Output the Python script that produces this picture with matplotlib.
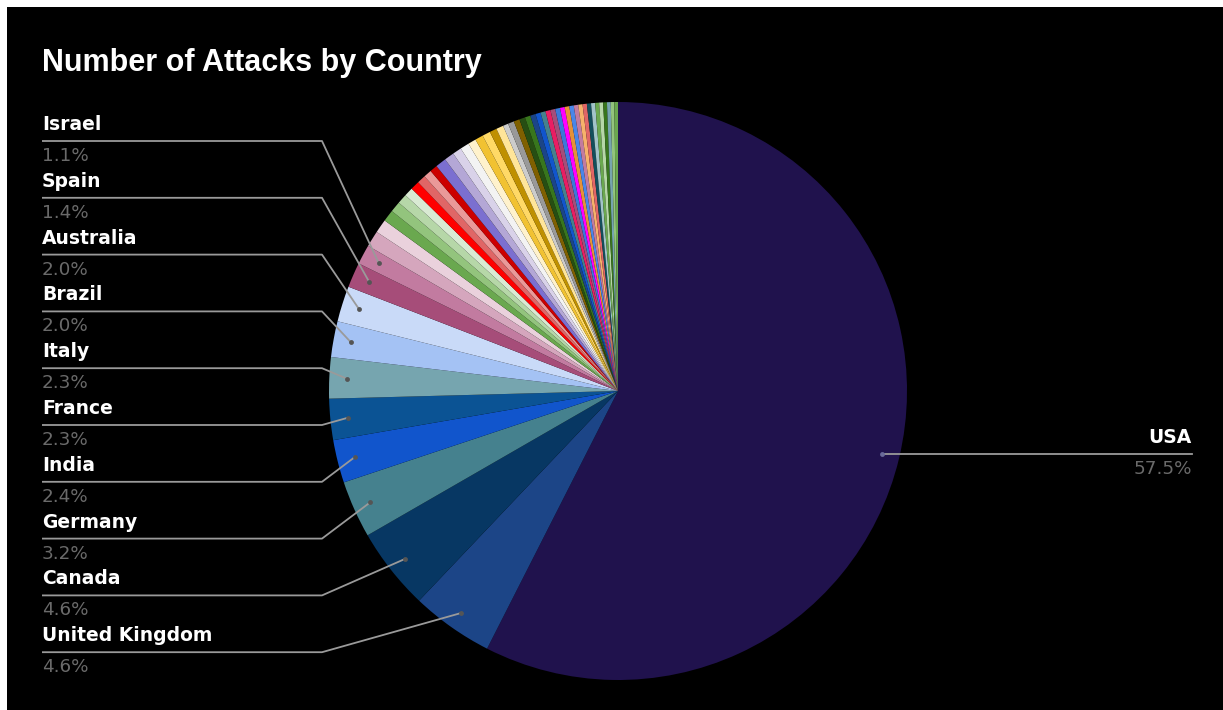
import numpy as np
import matplotlib
matplotlib.use('Agg')
import matplotlib.pyplot as plt
from matplotlib.patches import Rectangle

W, H = 1223, 710

# labelled countries (share of attacks, %)
countries = ['USA', 'United Kingdom', 'Canada', 'Germany', 'India', 'France',
             'Italy', 'Brazil', 'Australia', 'Spain', 'Israel']
shares = [57.5, 4.6, 4.6, 3.2, 2.4, 2.3, 2.3, 2.0, 2.0, 1.4, 1.1]
country_colors = ['#20124d', '#1c4587', '#073763', '#45818e', '#1155cc', '#0b5394',
                  '#76a5af', '#a4c2f4', '#c9daf8', '#a64d79', '#c27ba0']

# remaining unlabelled countries (small slices)
other_shares = [0.9, 0.77,
                0.65, 0.6, 0.55, 0.5,
                0.5, 0.48, 0.45, 0.42,
                0.6, 0.55, 0.5,
                0.5, 0.45,
                0.45, 0.45, 0.4, 0.4,
                0.3, 0.34, 0.33, 0.32, 0.31, 0.3, 0.29, 0.28, 0.28, 0.27,
                0.27, 0.26, 0.26, 0.25, 0.25, 0.24, 0.24, 0.23, 0.23, 0.22,
                0.22, 0.21, 0.21, 0.2, 0.2]
other_colors = ['#d5a6bd', '#ead1dc',
                '#6aa84f', '#93c47d', '#b6d7a8', '#d9ead3',
                '#ff0000', '#e06666', '#ea9999', '#cc0000',
                '#7b6fd0', '#b4a7d6', '#d9d2e9',
                '#f3f3f3', '#fff2cc',
                '#f1c232', '#ffd966', '#bf9000', '#ffe599',
                '#cccccc', '#999999', '#7f6000', '#274e13', '#38761d', '#1c4587',
                '#1155cc', '#45818e', '#e91e63', '#a64d79', '#3c78d8', '#ff00ff',
                '#e69138', '#4a86e8', '#c27ba0', '#f6b26b', '#e06666', '#134f5c',
                '#a2c4c9', '#6aa84f', '#b6d7a8', '#38761d', '#76a5af', '#93c47d',
                '#6aa84f']

values = shares + other_shares
colors = country_colors + other_colors

fig = plt.figure(figsize=(W / 100, H / 100), dpi=100, facecolor='white')
fig.patches.append(Rectangle((7 / W, 0), 1 - 7 / W, 1 - 7 / H, transform=fig.transFigure,
                             facecolor='black', edgecolor='none', zorder=-1))

# pie axes
cx, cy, r = 618, 391, 289
ax = fig.add_axes([(cx - r) / W, (H - cy - r) / H, 2 * r / W, 2 * r / H])
wedges, _ = ax.pie(values, colors=colors, startangle=90, counterclock=False,
                   wedgeprops=dict(linewidth=0))
ax.set_xlim(-1, 1)
ax.set_ylim(-1, 1)
ax.axis('off')

# overlay in pixel coordinates for labels and leader lines
ov = fig.add_axes([0, 0, 1, 1], zorder=2)
ov.set_xlim(0, W)
ov.set_ylim(H, 0)
ov.axis('off')
ov.patch.set_alpha(0)


def dot_pos(w, frac=0.94):
    a = np.deg2rad((w.theta1 + w.theta2) / 2)
    p = ax.transData.transform((frac * np.cos(a), frac * np.sin(a)))
    return ov.transData.inverted().transform(p)


line_col = '#9a9a9a'
pct_col = '#6a6a6a'

ov.text(42, 63, 'Number of Attacks by Country', color='white', fontsize=22,
        fontweight='bold', family='Liberation Sans', va='center', ha='left')

# left-hand labels, top to bottom
left = list(range(1, len(countries)))[::-1]
for row, i in enumerate(left):
    ly = 141 + row * 56.8
    dx, dy = dot_pos(wedges[i])
    ov.plot([42, 322, dx], [ly, ly, dy], color=line_col, lw=1.3, solid_capstyle='butt')
    ov.plot(dx, dy, 'o', ms=3.5, color='#555555', mec='none')
    ov.text(42, ly - 7, countries[i], color='white', fontsize=13.5, fontweight='bold',
            family='DejaVu Sans', ha='left', va='bottom')
    ov.text(42, ly + 6, f'{shares[i]:.1f}%', color=pct_col, fontsize=13.2,
            family='DejaVu Sans', ha='left', va='top')

# USA on the right
dx, dy = dot_pos(wedges[0])
ov.plot([dx, 1192], [dy, dy], color=line_col, lw=1.3)
ov.plot(dx, dy, 'o', ms=3.5, color='#6a6a9a', mec='none')
ov.text(1192, dy - 7, countries[0], color='white', fontsize=13.5, fontweight='bold',
        family='DejaVu Sans', ha='right', va='bottom')
ov.text(1192, dy + 6, f'{shares[0]:.1f}%', color=pct_col, fontsize=13.2,
        family='DejaVu Sans', ha='right', va='top')

fig.savefig('out.png', dpi=100, facecolor=fig.get_facecolor())
